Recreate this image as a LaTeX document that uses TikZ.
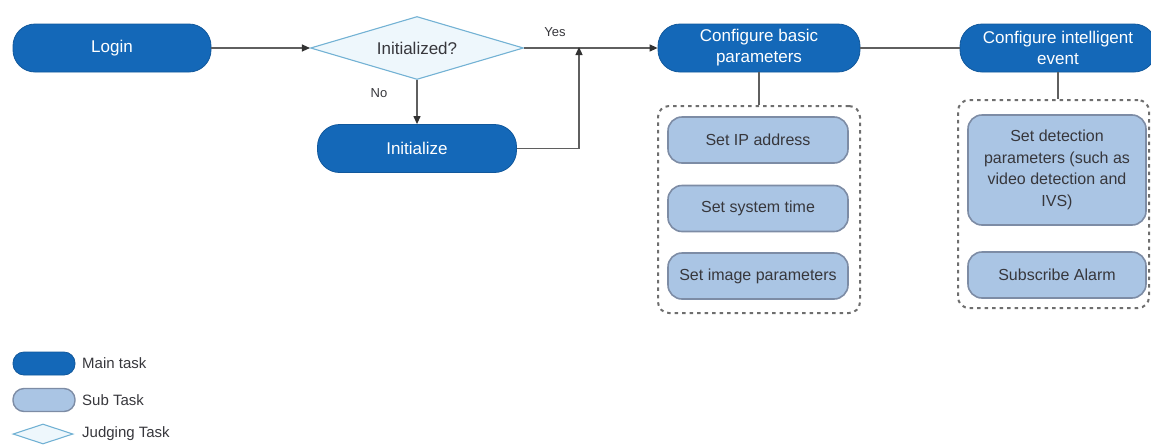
\documentclass[tikz,border=0pt]{standalone}
\usepackage{fontspec}
\setmainfont{Liberation Sans}
\usetikzlibrary{shapes.geometric,arrows.meta}
\definecolor{mainblue}{RGB}{20,104,184}
\definecolor{subfill}{RGB}{170,197,228}
\definecolor{subdraw}{RGB}{125,140,165}
\definecolor{diafill}{RGB}{238,247,252}
\definecolor{diadraw}{RGB}{115,178,212}
\definecolor{linec}{RGB}{95,95,95}
\definecolor{arrc}{RGB}{50,50,50}
\definecolor{grpc}{RGB}{110,110,110}
\definecolor{txt}{RGB}{55,55,60}
\begin{document}
\begin{tikzpicture}[x=1pt,y=-1pt,
  maintask/.style={draw=mainblue!85!black, line width=0.8pt, fill=mainblue, rounded corners=22pt,
    text=white, font=\fontsize{17}{21}\selectfont, align=center, minimum height=48pt, inner sep=1pt},
  subtask/.style={draw=subdraw, line width=1.6pt, fill=subfill, rounded corners=14pt,
    text=txt, font=\fontsize{16}{21.5}\selectfont, align=center,
    minimum height=46pt, inner sep=1pt},
  judge/.style={diamond, draw=diadraw, line width=1.1pt, fill=diafill, aspect=3.4,
    minimum width=213pt, minimum height=63pt, inner sep=0pt, text=txt,
    font=\fontsize{17}{21}\selectfont},
  grp/.style={draw=grpc, dash pattern=on 3.5pt off 4pt, line width=2pt,
    rounded corners=11pt, inner sep=0pt},
  conn/.style={draw=linec, line width=1.2pt},
  arr/.style={conn, -{Triangle[length=8pt,width=7pt,color=arrc]}},
  lbl/.style={text=txt, font=\fontsize{13}{15}\selectfont, inner sep=0pt},
  legtxt/.style={text=txt, font=\fontsize{15}{17}\selectfont, anchor=west, inner sep=0pt},
]
\useasboundingbox (0,0) rectangle (1151,445);

% main flow
\node[maintask, minimum width=198pt] (login) at (112,48) {Login};
\node[judge] (judge) at (417,48) {Initialized?};
\node[maintask, minimum width=199pt] (init) at (417,148.5) {Initialize};
\node[maintask, minimum width=202pt] (cbp) at (759,48) {Configure basic\\parameters};
\node[maintask, minimum width=196pt] (cie) at (1058,48) {Configure intelligent\\event};

% groups
\node[grp, minimum width=202pt, minimum height=207pt] (g1) at (759,209.5) {};
\node[grp, minimum width=191pt, minimum height=208pt] (g2) at (1053.5,204) {};

\node[subtask, minimum width=180pt] (ip) at (758,140) {Set IP address};
\node[subtask, minimum width=180pt] (time) at (758,208.5) {Set system time};
\node[subtask, minimum width=180pt] (img) at (758,276) {Set image parameters};
\node[subtask, minimum width=178pt, minimum height=110pt] (det) at (1057,170) {Set detection\\parameters (such as\\video detection and\\IVS)};
\node[subtask, minimum width=178pt] (alarm) at (1057,275) {Subscribe Alarm};

% connectors
\coordinate (merge) at (579,48);
\draw[arr] (login) -- (judge);
\draw[arr] (judge) -- (init);
\draw[arr] (judge.east) -- (cbp.west);
\draw[arr] (init.east) -| ([yshift=1pt]merge);
\draw[conn] (cbp) -- (cie);
\draw[conn] (cbp.south) -- (g1.north);
\draw[conn] (cie.south) -- (cie.south |- g2.north);

\node[lbl] (yes) at (555,32) {Yes};
\node[lbl] (no) at (379,93) {No};

% legend
\node[draw=mainblue!85!black, fill=mainblue, rounded corners=11pt, minimum width=62pt, minimum height=23pt, inner sep=0pt, line width=0.8pt] (lm) at (44,363.5) {};
\node[legtxt] (lmt) at (82,363.5) {Main task};
\node[draw=subdraw, fill=subfill, rounded corners=11pt, minimum width=62pt, minimum height=23pt, inner sep=0pt, line width=1.4pt] (ls) at (44,400) {};
\node[legtxt] (lst) at (82,400) {Sub Task};
\node[diamond, draw=diadraw, fill=diafill, aspect=3.1, minimum width=60pt, minimum height=20pt, inner sep=0pt, line width=1.1pt] (lj) at (43,434) {};
\node[legtxt] (ljt) at (82,434) {Judging Task};
\end{tikzpicture}
\end{document}
